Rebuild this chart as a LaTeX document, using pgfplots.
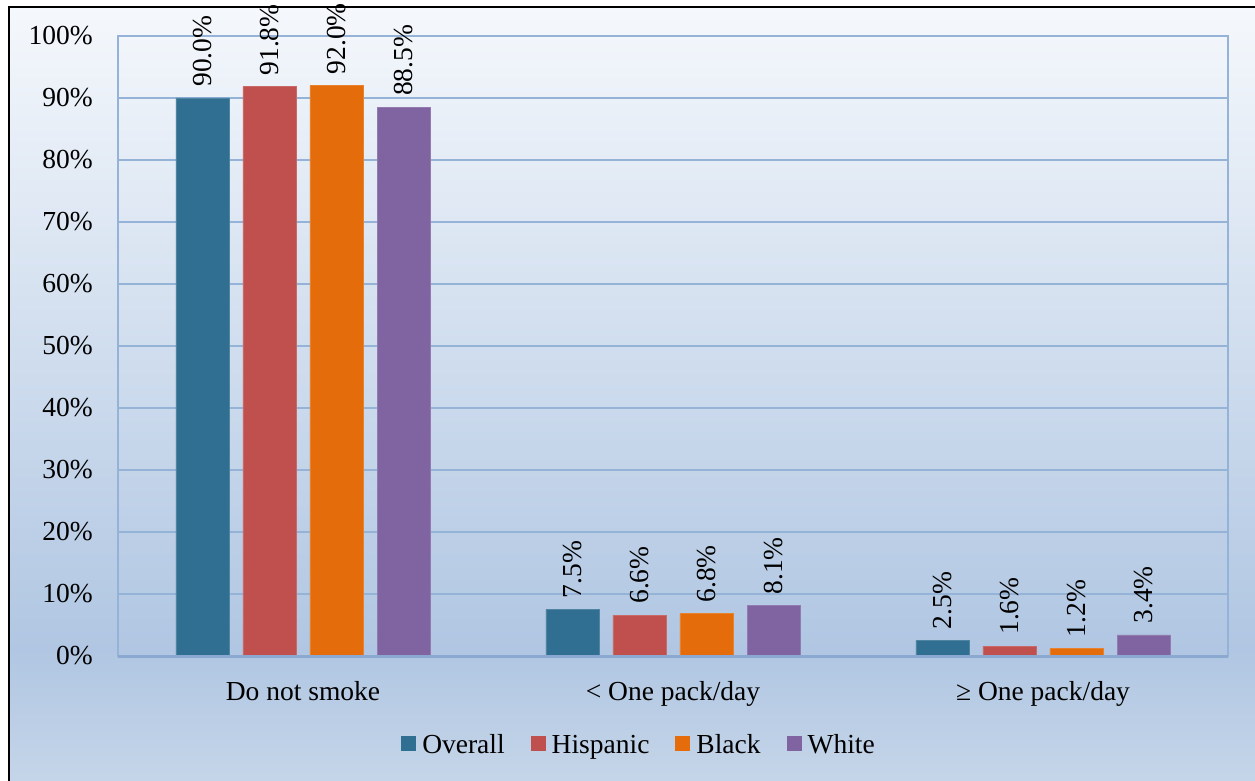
\documentclass[border=0pt]{standalone}
\usepackage{fontspec}
\setmainfont{Liberation Serif}
\usepackage{pgfplots}
\pgfplotsset{compat=1.18}

\definecolor{cOverall}{RGB}{49,111,146}
\definecolor{cHispanic}{RGB}{192,80,77}
\definecolor{cBlack}{RGB}{228,108,10}
\definecolor{cWhite}{RGB}{128,100,162}
\definecolor{gridc}{RGB}{149,179,215}
\definecolor{basec}{RGB}{138,168,208}
\definecolor{bgTop}{RGB}{245,248,252}
\definecolor{bgMid}{RGB}{176,198,226}
\definecolor{bgBot}{RGB}{198,214,233}

\newcommand{\chartfont}{\fontsize{27.5}{30}\selectfont}

\begin{document}
\begin{tikzpicture}[x=1pt,y=1pt]
  \useasboundingbox (-118,-124) rectangle (1137,656);
  \fill[white] (-118,-124) rectangle (1137,656);
  % chart area background
  \shade[top color=bgTop,bottom color=bgMid] (-109,649) rectangle (1140,6);
  \shade[top color=bgMid,bottom color=bgBot] (-109,6.5) rectangle (1140,-130);
  \draw[black,line width=2.5pt] (-109,-130) -- (-109,649) -- (1145,649);

  \begin{axis}[
    at={(0pt,0pt)}, anchor=south west,
    scale only axis, width=1110pt, height=620pt,
    xmin=-0.5, xmax=2.5, ymin=0, ymax=100,
    clip=false,
    ybar=14pt, bar width=53pt,
    xtick={0,1,2},
    xticklabels={Do not smoke, {< One pack/day}, {≥ One pack/day}},
    ytick={0,10,...,100},
    yticklabel={\pgfmathprintnumber{\tick}\%},
    /pgf/number format/assume math mode=true,
    major tick length=0pt,
    ymajorgrids,
    grid style={gridc, line width=1.2pt},
    axis line style={gridc, line width=1.5pt},
    tick label style={font=\chartfont, black},
    yticklabel style={anchor=east, inner sep=0pt, xshift=-25pt},
    xticklabel style={anchor=north, inner sep=0pt, yshift=-25pt},
    nodes near coords={\pgfmathprintnumber[fixed,fixed zerofill,precision=1]{\pgfplotspointmeta}\%},
    every node near coord/.append style={rotate=90, anchor=west, font=\chartfont, black, inner xsep=11pt, inner ysep=0pt},
    legend columns=-1,
    legend image code/.code={\fill[#1,draw=none] (0pt,-6pt) rectangle (15pt,9pt);},
    legend style={
      at={(0.4685,-0.1435)}, anchor=center,
      draw=none, fill=none, font=\chartfont,
      nodes={inner sep=0pt},
      /tikz/every odd column/.append style={column sep=6pt},
      /tikz/every even column/.append style={column sep=26pt},
    },
  ]
    \addplot[fill=cOverall, draw=cOverall!85!white, line width=0.8pt]
      coordinates {(0,90.0) (1,7.5) (2,2.5)};
    \addplot[fill=cHispanic, draw=cHispanic!85!white, line width=0.8pt]
      coordinates {(0,91.8) (1,6.6) (2,1.6)};
    \addplot[fill=cBlack, draw=cBlack!85!white, line width=0.8pt]
      coordinates {(0,92.0) (1,6.8) (2,1.2)};
    \addplot[fill=cWhite, draw=cWhite!85!white, line width=0.8pt]
      coordinates {(0,88.5) (1,8.1) (2,3.4)};
    \legend{Overall, Hispanic, Black, White}
    % heavier base line of the plot area
    \draw[basec, line width=3pt] (rel axis cs:0,0) -- (rel axis cs:1,0);
  \end{axis}
\end{tikzpicture}
\end{document}
